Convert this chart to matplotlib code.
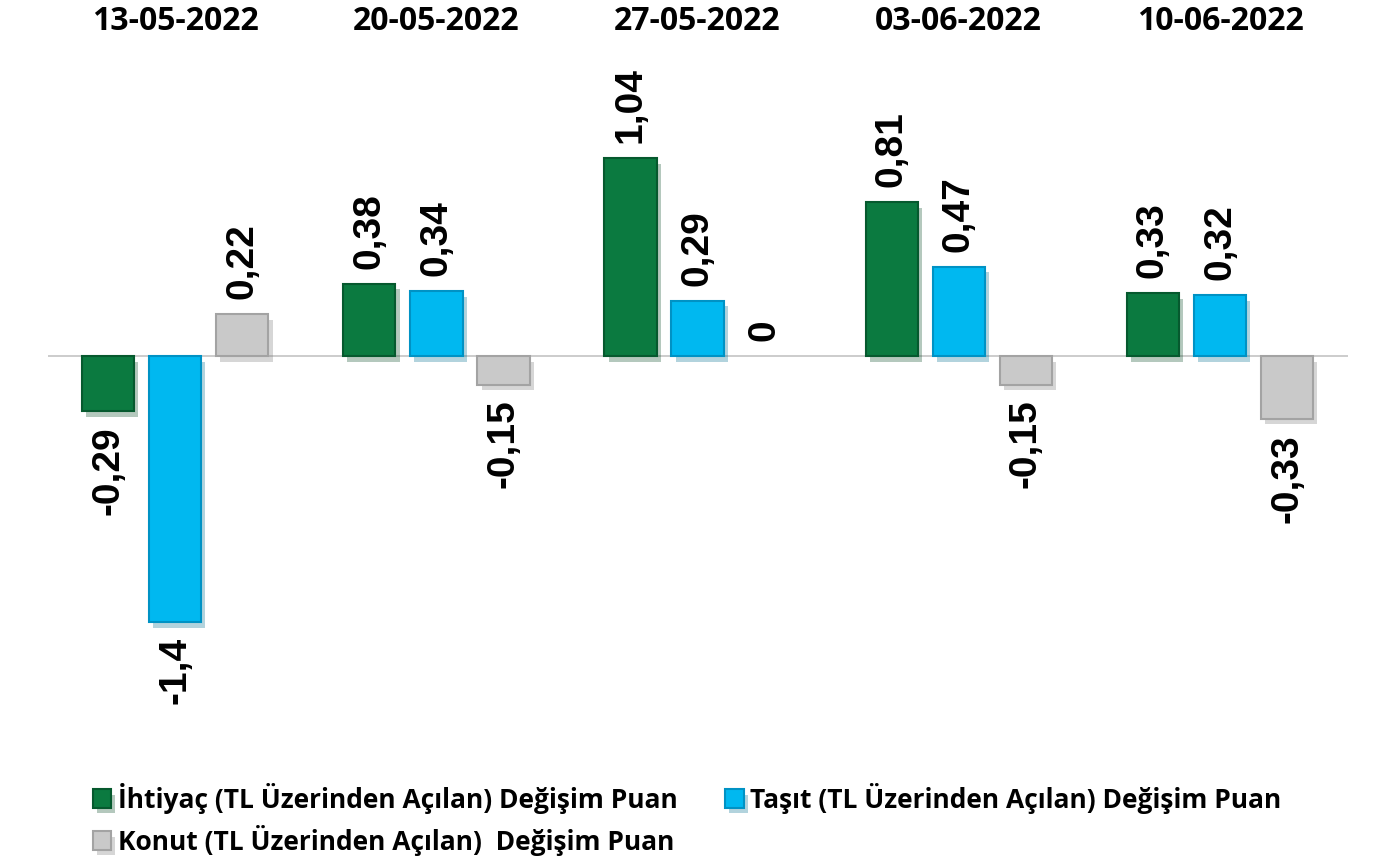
import numpy as np
import matplotlib
matplotlib.use("Agg")
import matplotlib.pyplot as plt
import matplotlib.patheffects as pe
from matplotlib.transforms import blended_transform_factory

dates = ["13-05-2022", "20-05-2022", "27-05-2022", "03-06-2022", "10-06-2022"]
series_names = [
    "İhtiyaç (TL Üzerinden Açılan) Değişim Puan",
    "Taşıt (TL Üzerinden Açılan) Değişim Puan",
    "Konut (TL Üzerinden Açılan)  Değişim Puan",
]
ihtiyac = [-0.29, 0.38, 1.04, 0.81, 0.33]
tasit = [-1.4, 0.34, 0.29, 0.47, 0.32]
konut = [0.22, -0.15, 0, -0.15, -0.33]

fills = ["#0b7a40", "#00b8f0", "#c9c9c9"]
edges = ["#06592e", "#0092c4", "#a3a3a3"]
TXT_FONT = "Open Sans"
NUM_FONT = "Liberation Sans"


def fmt(v):
    return ("%g" % v).replace(".", ",")


fig = plt.figure(figsize=(13.95, 8.67), dpi=100)
ax = fig.add_axes([48 / 1395, 0.2168, 1300 / 1395, 0.7013])

x = np.arange(len(dates))
pitch, width = 0.257, 0.2
shadow = [pe.SimplePatchShadow(offset=(3, -4), alpha=0.3, rho=0.6), pe.Normal()]

handles = []
for i, vals in enumerate([ihtiyac, tasit, konut]):
    xs = x + (i - 1) * pitch
    bars = ax.bar(xs, vals, width, color=fills[i], edgecolor=edges[i],
                  linewidth=1.5, label=series_names[i], zorder=3)
    handles.append(bars)
    for b, v in zip(bars, vals):
        if v == 0:
            b.set_linewidth(0)
        else:
            b.set_path_effects(shadow)
    for xv, v in zip(xs, vals):
        if v >= 0:
            ax.text(xv, v + 0.08, fmt(v), rotation=90, ha="center",
                    va="bottom", fontsize=28, fontweight="bold",
                    family=NUM_FONT, zorder=4)
        else:
            ax.text(xv, v - 0.08, fmt(v), rotation=90, ha="center",
                    va="top", fontsize=28, fontweight="bold",
                    family=NUM_FONT, zorder=4)

ax.axhline(0, color="#c4c4c4", lw=1.2, zorder=2)
ax.set_xlim(-0.487, 4.49)
ax.set_ylim(-1.7, 1.5)
ax.axis("off")

tr = blended_transform_factory(ax.transData, fig.transFigure)
for xv, d in zip(x, dates):
    ax.text(xv, 1 - 22 / 867, d, transform=tr, ha="center", va="center",
            fontsize=23, fontweight="bold", family=TXT_FONT)

# legend fills rows first in the reference: İhtiyaç, Taşıt / Konut
order = [0, 2, 1]
fig.legend([handles[k] for k in order], [series_names[k] for k in order],
           loc="upper left", bbox_to_anchor=(69 / 1395, 1 - 759 / 867),
           ncol=2, frameon=False, handlelength=0.7, handleheight=0.7,
           handletextpad=0.25, columnspacing=1.8, labelspacing=0.42,
           prop={"family": TXT_FONT, "weight": "bold", "size": 19})

fig.savefig("out.png", dpi=100)
